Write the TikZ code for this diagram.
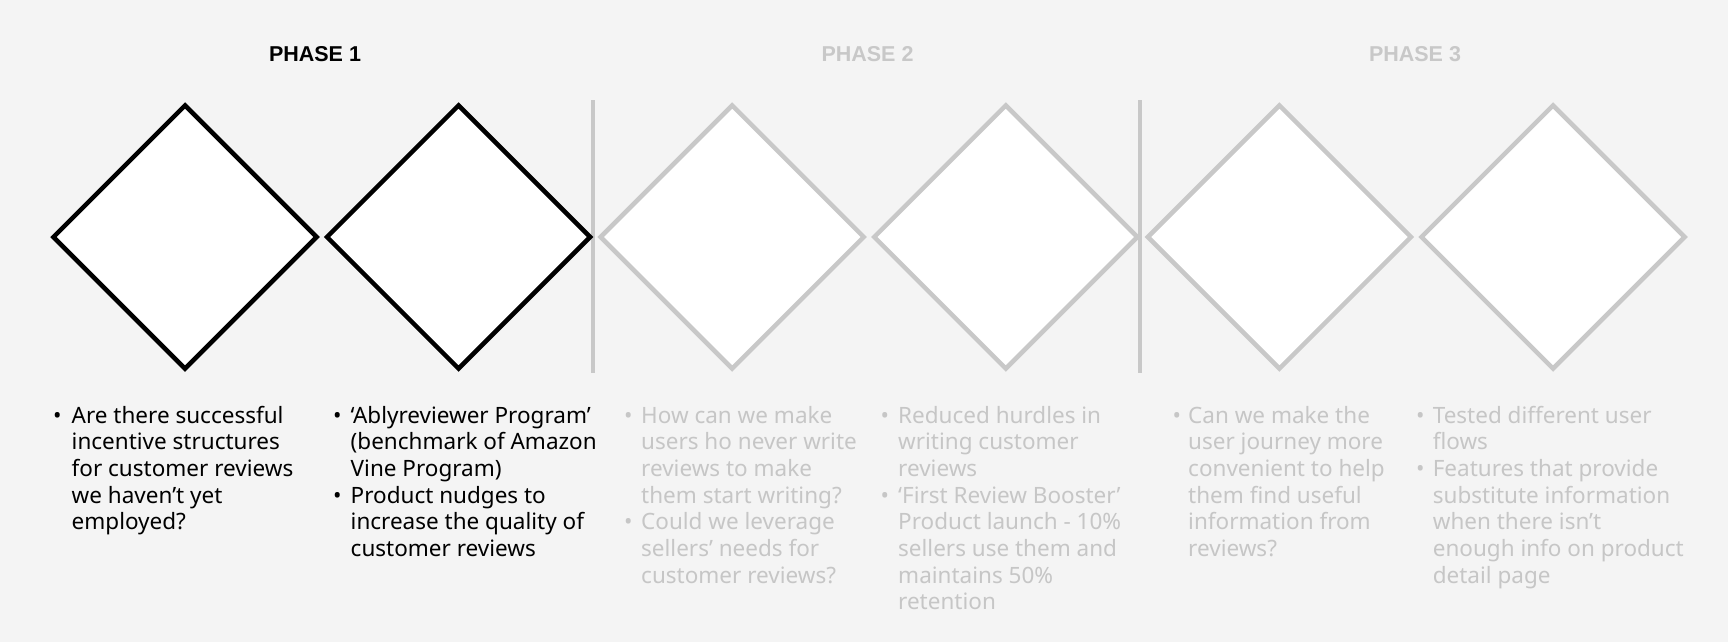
\documentclass[tikz,border=0pt]{standalone}
\usepackage{fontspec}
\setmainfont{Noto Sans}
\newfontfamily\phasefont{Liberation Sans}
\usetikzlibrary{shapes.geometric}
\definecolor{bgpaper}{HTML}{F4F4F4}
\definecolor{fadeline}{HTML}{C8C8C8}
\definecolor{fadetext}{HTML}{C6C6C6}
\tikzset{every node/.append style={inner sep=0pt}}
\tikzset{phase/.style={anchor=base,font=\phasefont\fontsize{21.5}{26}\selectfont\bfseries}}
\tikzset{note/.style={anchor=base west,font=\fontsize{22.5}{26.7}\selectfont}}
\tikzset{dia/.style={diamond,minimum width=265pt,minimum height=265pt,
    fill=white,line width=4.5pt,miter limit=10}}
\tikzset{sep/.style={draw=fadeline,line width=3.2pt}}
\newcommand{\bl}{\textbullet}

\begin{document}
\begin{tikzpicture}[x=1pt,y=-1pt]
  \fill[bgpaper] (0,0) rectangle (1728,642);
  \useasboundingbox (0,0) rectangle (1728,642);

  % phase titles
  \node[phase] (ph1) at (315,61.7) {PHASE 1};
  \node[phase,text=fadeline] (ph2) at (867.5,61.7) {PHASE 2};
  \node[phase,text=fadeline] (ph3) at (1415,61.7) {PHASE 3};

  % separators
  \coordinate (s1t) at (593,100);
  \coordinate (s1b) at (593,373);
  \coordinate (s2t) at (1140,100);
  \coordinate (s2b) at (1140,373);
  \draw[sep] (s1t)--(s1b);
  \draw[sep] (s2t)--(s2b);

  % diamonds
  \node[dia,draw=black] (d1) at (185,237) {};
  \node[dia,draw=black] (d2) at (458.6,237) {};
  \node[dia,draw=fadeline] (d3) at (732.2,237) {};
  \node[dia,draw=fadeline] (d4) at (1005.8,237) {};
  \node[dia,draw=fadeline] (d5) at (1279.4,237) {};
  \node[dia,draw=fadeline] (d6) at (1553,237) {};

  % notes under the diamonds
  \node[note] (n1) at (53,423) {\begin{tabular}[t]{@{}p{18.5pt}@{}l@{}}
      \bl & Are there successful\\
          & incentive structures\\
          & for customer reviews\\
          & we haven’t yet\\
          & employed?
    \end{tabular}};
  \node[note] (n2) at (333,423) {\begin{tabular}[t]{@{}p{17.5pt}@{}l@{}}
      \bl & ‘Ablyreviewer Program’\\
          & (benchmark of Amazon\\
          & Vine Program)\\
      \bl & Product nudges to\\
          & increase the quality of\\
          & customer reviews
    \end{tabular}};
  \node[note,text=fadetext] (n3) at (624,423) {\begin{tabular}[t]{@{}p{17pt}@{}l@{}}
      \bl & How can we make\\
          & users ho never write\\
          & reviews to make\\
          & them start writing?\\
      \bl & Could we leverage\\
          & sellers’ needs for\\
          & customer reviews?
    \end{tabular}};
  \node[note,text=fadetext] (n4) at (880.5,423) {\begin{tabular}[t]{@{}p{17.5pt}@{}l@{}}
      \bl & Reduced hurdles in\\
          & writing customer\\
          & reviews\\
      \bl & ‘First Review Booster’\\
          & Product launch - 10\%\\
          & sellers use them and\\
          & maintains 50\%\\
          & retention
    \end{tabular}};
  \node[note,text=fadetext] (n5) at (1172.5,423) {\begin{tabular}[t]{@{}p{15.5pt}@{}l@{}}
      \bl & Can we make the\\
          & user journey more\\
          & convenient to help\\
          & them find useful\\
          & information from\\
          & reviews?
    \end{tabular}};
  \node[note,text=fadetext] (n6) at (1416,423) {\begin{tabular}[t]{@{}p{16.6pt}@{}l@{}}
      \bl & Tested different user\\
          & flows\\
      \bl & Features that provide\\
          & substitute information\\
          & when there isn’t\\
          & enough info on product\\
          & detail page
    \end{tabular}};
\end{tikzpicture}
\end{document}
